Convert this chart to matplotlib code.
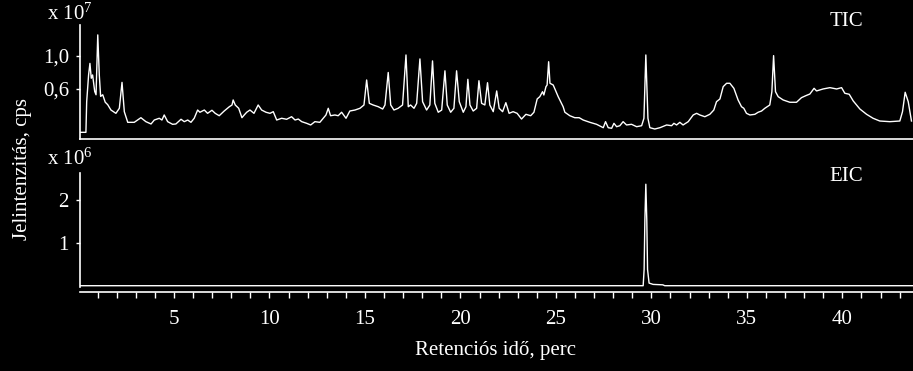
import matplotlib
matplotlib.use("Agg")
import matplotlib.pyplot as plt
from matplotlib.ticker import MultipleLocator, FixedLocator, FuncFormatter

plt.rcParams['font.family'] = ['Liberation Serif', 'DejaVu Serif']
plt.rcParams['mathtext.fontset'] = 'custom'
plt.rcParams['mathtext.rm'] = 'Liberation Serif'
plt.rcParams['mathtext.it'] = 'Liberation Serif'
plt.rcParams['mathtext.default'] = 'regular'

# ---- data ----
tic_time = [0.10, 0.39, 0.43, 0.53, 0.60, 0.67, 0.74, 0.85, 0.92, 1.01, 1.09, 1.16,
            1.27, 1.40, 1.53, 1.70, 1.96, 2.14, 2.28, 2.40, 2.58, 2.92, 3.27, 3.53,
            3.80, 3.97, 4.23, 4.37, 4.49, 4.67, 4.93, 5.10, 5.37, 5.54, 5.72, 5.89,
            6.06, 6.24, 6.36, 6.59, 6.76, 6.99, 7.16, 7.37, 7.63, 7.90, 8.04, 8.10,
            8.21, 8.39, 8.56, 8.68, 8.81, 8.98, 9.19, 9.41, 9.59, 9.82, 10.03, 10.20,
            10.38, 10.64, 10.90, 11.16, 11.34, 11.51, 11.69, 11.95, 12.16, 12.38, 12.64,
            12.82, 12.96, 13.08, 13.20, 13.43, 13.60, 13.78, 14.01, 14.21, 14.48, 14.74,
            14.95, 15.09, 15.23, 15.43, 15.70, 15.93, 16.05, 16.22, 16.35, 16.52, 16.74,
            16.97, 17.15, 17.27, 17.39, 17.57, 17.71, 17.88, 18.02, 18.23, 18.40, 18.54,
            18.66, 18.84, 19.02, 19.19, 19.31, 19.49, 19.66, 19.80, 19.94, 20.15, 20.29,
            20.39, 20.50, 20.67, 20.85, 20.97, 21.11, 21.28, 21.42, 21.54, 21.72, 21.90,
            22.03, 22.21, 22.38, 22.55, 22.76, 22.97, 23.20, 23.43, 23.68, 23.85, 24.02,
            24.16, 24.30, 24.37, 24.48, 24.54, 24.62, 24.69, 24.86, 25.12, 25.38, 25.47,
            25.73, 25.99, 26.22, 26.43, 26.78, 27.13, 27.48, 27.60, 27.74, 27.92, 28.04,
            28.18, 28.35, 28.52, 28.70, 28.96, 29.23, 29.49, 29.61, 29.71, 29.82, 29.92,
            30.18, 30.45, 30.80, 31.06, 31.18, 31.32, 31.49, 31.66, 31.93, 32.19, 32.37,
            32.54, 32.80, 33.06, 33.27, 33.41, 33.59, 33.76, 33.94, 34.11, 34.32, 34.54,
            34.72, 34.84, 34.98, 35.16, 35.42, 35.59, 35.77, 35.94, 36.20, 36.31, 36.40,
            36.50, 36.64, 36.90, 37.25, 37.60, 37.86, 38.09, 38.30, 38.52, 38.65, 38.99,
            39.35, 39.70, 39.96, 40.13, 40.36, 40.57, 40.92, 41.27, 41.61, 41.96, 42.49,
            43.01, 43.15, 43.29, 43.45, 43.62]
tic_value = [0.075, 0.075, 0.446, 0.77, 0.91, 0.73, 0.77, 0.57, 0.53, 1.255, 0.77, 0.51,
             0.53, 0.44, 0.41, 0.345, 0.305, 0.366, 0.68, 0.325, 0.196, 0.196, 0.252, 0.204,
             0.176, 0.224, 0.245, 0.224, 0.285, 0.204, 0.172, 0.176, 0.233, 0.204, 0.224, 0.196,
             0.245, 0.345, 0.318, 0.345, 0.305, 0.342, 0.305, 0.276, 0.333, 0.385, 0.406, 0.467,
             0.406, 0.366, 0.252, 0.285, 0.318, 0.345, 0.305, 0.406, 0.345, 0.318, 0.305, 0.325,
             0.224, 0.245, 0.233, 0.264, 0.224, 0.236, 0.204, 0.184, 0.164, 0.204, 0.196,
             0.245, 0.285, 0.366, 0.276, 0.285, 0.276, 0.318, 0.245, 0.333, 0.345, 0.366,
             0.406, 0.709, 0.426, 0.406, 0.385, 0.357, 0.406, 0.80, 0.406, 0.345, 0.366,
             0.406, 1.012, 0.385, 0.406, 0.366, 0.426, 0.964, 0.446, 0.345, 0.406, 0.94,
             0.426, 0.318, 0.345, 0.82, 0.406, 0.318, 0.366, 0.82, 0.446, 0.318, 0.385,
             0.717, 0.406, 0.333, 0.366, 0.70, 0.426, 0.406, 0.676, 0.406, 0.325, 0.576,
             0.366, 0.325, 0.434, 0.305, 0.325, 0.305, 0.236, 0.293, 0.276, 0.318, 0.479,
             0.507, 0.567, 0.527, 0.628, 0.648, 0.93, 0.669, 0.648, 0.507, 0.385, 0.318,
             0.276, 0.252, 0.252, 0.224, 0.196, 0.172, 0.131, 0.204, 0.131, 0.124, 0.184,
             0.143, 0.155, 0.204, 0.164, 0.172, 0.143, 0.155, 0.245, 1.012, 0.245, 0.131,
             0.115, 0.131, 0.164, 0.155, 0.184, 0.164, 0.196, 0.164, 0.204, 0.285, 0.305,
             0.285, 0.264, 0.293, 0.345, 0.446, 0.479, 0.628, 0.669, 0.669, 0.608, 0.467,
             0.385, 0.366, 0.305, 0.285, 0.293, 0.318, 0.333, 0.366, 0.406, 0.567, 1.004,
             0.567, 0.507, 0.467, 0.439, 0.439, 0.495, 0.519, 0.539, 0.608, 0.576, 0.60,
             0.616, 0.60, 0.616, 0.548, 0.536, 0.455, 0.357, 0.293, 0.245, 0.212, 0.204,
             0.212, 0.325, 0.56, 0.446, 0.212]

eic_time = [0.10, 29.57, 29.62, 29.66, 29.71, 29.76, 29.80, 29.88, 30.09, 30.60, 30.70, 43.70]
eic_value = [0.03, 0.03, 0.40, 1.53, 2.35, 1.53, 0.40, 0.09, 0.06, 0.05, 0.03, 0.03]

x_ticks_major = [5, 10, 15, 20, 25, 30, 35, 40]
tic_yticks = [0.6, 1.0]
eic_yticks = [1, 2]

# ---- figure ----
W, H = 913, 371
fig = plt.figure(figsize=(W / 100, H / 100), dpi=100, facecolor='black')

def fx(px):
    return px / W

def fy(py):
    return 1 - py / H

XMIN, XMAX = 0.08, 43.7
FS = 15
white = 'white'

# top TIC panel
ax1 = fig.add_axes([fx(80), fy(139), fx(913) - fx(80), fy(25) - fy(139)])
ax1.set_facecolor('black')
ax1.plot(tic_time, tic_value, color=white, lw=1.0)
ax1.set_xlim(XMIN, XMAX)
ax1.set_ylim(-0.006, 1.375)
ax1.set_yticks(tic_yticks)
ax1.yaxis.set_major_formatter(FuncFormatter(lambda v, p: f"{v:.1f}".replace('.', ',')))
ax1.set_xticks([])
for s in ['top', 'right']:
    ax1.spines[s].set_visible(False)
for s in ['left', 'bottom']:
    ax1.spines[s].set_color(white)
    ax1.spines[s].set_linewidth(1.2)
ax1.tick_params(axis='y', colors=white, labelsize=FS, length=3, width=1, pad=5)
ax1.text(0.92, 1.03, 'TIC', transform=ax1.transAxes, color=white, fontsize=FS,
         ha='center', va='center')

# bottom EIC panel
ax2 = fig.add_axes([fx(80), fy(291.7), fx(913) - fx(80), fy(173.3) - fy(291.7)])
ax2.set_facecolor('black')
ax2.plot(eic_time, eic_value, color=white, lw=1.0)
ax2.set_xlim(XMIN, XMAX)
ax2.set_ylim(-0.107, 2.6)
ax2.set_yticks(eic_yticks)
ax2.spines['left'].set_bounds(0, 2.6)
ax2.xaxis.set_major_locator(FixedLocator(x_ticks_major))
ax2.xaxis.set_minor_locator(MultipleLocator(1))
for s in ['top', 'right']:
    ax2.spines[s].set_visible(False)
for s in ['left', 'bottom']:
    ax2.spines[s].set_color(white)
    ax2.spines[s].set_linewidth(1.2)
ax2.tick_params(axis='y', colors=white, labelsize=FS, length=3, width=1, pad=5)
ax2.tick_params(axis='x', which='both', colors=white, labelsize=FS, length=4, width=1,
                pad=9, direction='out')
ax2.text(0.92, 0.977, 'EIC', transform=ax2.transAxes, color=white, fontsize=FS,
         ha='center', va='center')

# multipliers
fig.text(fx(47), fy(19.5), r'x 10$^{7}$', color=white, fontsize=FS, ha='left', va='baseline')
fig.text(fx(47), fy(165), r'x 10$^{6}$', color=white, fontsize=FS, ha='left', va='baseline')

# axis labels
fig.text(fx(495), fy(350), 'Retenciós idő, perc', color=white, fontsize=FS,
         ha='center', va='center')
fig.text(fx(22), fy(169), 'Jelintenzitás, cps', color=white, fontsize=FS,
         ha='center', va='center', rotation=90)

fig.savefig('out.png', dpi=100, facecolor='black')
